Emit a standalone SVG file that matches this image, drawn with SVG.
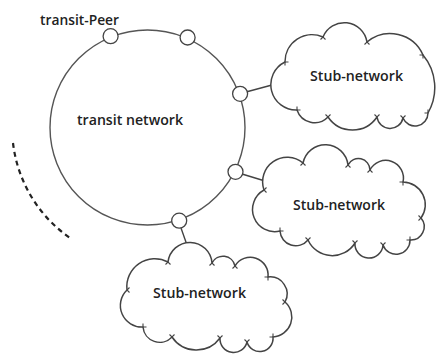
<svg xmlns="http://www.w3.org/2000/svg" width="436" height="354" viewBox="0 0 436 354">
<style>
.lbl{font-family:"Open Sans","DejaVu Sans",sans-serif;font-weight:600;font-size:14px;fill:#222}
.cloud{fill:#fff;stroke:#444;stroke-width:1.5;stroke-linejoin:round}
.tick{fill:none;stroke:#444;stroke-width:1.1}
.port{fill:#fff;stroke:#444;stroke-width:1.3}
.conn{stroke:#444;stroke-width:1.4;fill:none}
</style>
<rect width="436" height="354" fill="#fff"/>
<g id="connectors">
<line class="conn" x1="246" y1="92" x2="272" y2="85"/>
<line class="conn" x1="242" y1="174" x2="265" y2="181"/>
<line class="conn" x1="181" y1="228" x2="187" y2="245"/>
<path d="M 13,143 A 135 135 0 0 0 70,238" fill="none" stroke="#222" stroke-width="2.2" stroke-dasharray="5 4"/>
</g>
<g id="transit-network">
<circle cx="147.5" cy="127.5" r="97.5" fill="#fff" stroke="#555" stroke-width="1.4"/>
<text class="lbl" x="77" y="125" textLength="106" lengthAdjust="spacingAndGlyphs">transit network</text>
</g>
<g id="transit-peer">
<text class="lbl" x="40" y="24.5" textLength="79" lengthAdjust="spacingAndGlyphs">transit-Peer</text>
</g>
<g id="ports">
<circle class="port" cx="110.6" cy="36.2" r="7.5"/>
<circle class="port" cx="187.6" cy="37.5" r="7.5"/>
<circle class="port" cx="240.1" cy="93.8" r="7.5"/>
<circle class="port" cx="235.5" cy="171.8" r="7.5"/>
<circle class="port" cx="179.2" cy="220.7" r="7.5"/>
</g>
<g id="stub-network-1">
<path class="cloud" d="M 297,110 A 25.3 25.3 0 0 1 285,62 A 27 27 0 0 1 323,37 A 23 23 0 0 1 367,42 A 36 36 0 0 1 423,55 A 51 51 0 0 1 428,113 A 13 13 0 0 1 403,118 A 13.2 13.2 0 0 1 377,117 A 29.6 29.6 0 0 1 328,117 A 18.6 18.6 0 0 1 297,110 Z"/>
<path class="tick" d="M288.5,62 L285,62 L285,65.5 M320.5,39.5 L323,37 L325.5,39.5 M364.5,44.5 L367,42 L369.5,44.5 M423,58.5 L423,55 L419.5,55 M424.5,113 L428,113 L428,109.5 M400.5,115.5 L403,118 L405.5,115.5 M374.5,114.5 L377,117 L379.5,114.5 M325.5,114.5 L328,117 L330.5,114.5 M300.5,110 L297,110 L297,106.5"/>
<text class="lbl" x="310" y="80.5" textLength="93" lengthAdjust="spacingAndGlyphs">Stub-network</text>
</g>
<g id="stub-network-2">
<path class="cloud" d="M 264,190 A 24.6 24.6 0 0 1 303,163 A 22.8 22.8 0 0 1 348,165 A 11.6 11.6 0 0 1 370,170 A 17.7 17.7 0 0 1 403,182 A 22.7 22.7 0 0 1 421,218 A 13.4 13.4 0 0 1 410,240 A 13.9 13.9 0 0 1 383,245 A 14 14 0 0 1 355,243 A 26.7 26.7 0 0 1 308,240 A 15.8 15.8 0 0 1 280,231 A 22.2 22.2 0 0 1 264,190 Z"/>
<path class="tick" d="M266.5,187.5 L264,190 L266.5,192.5 M300.5,165.5 L303,163 L305.5,165.5 M345.5,167.5 L348,165 L350.5,167.5 M367.5,172.5 L370,170 L372.5,172.5 M403,185.5 L403,182 L399.5,182 M418.5,215.5 L421,218 L418.5,220.5 M406.5,240 L410,240 L410,236.5 M380.5,242.5 L383,245 L385.5,242.5 M352.5,240.5 L355,243 L357.5,240.5 M305.5,237.5 L308,240 L310.5,237.5 M283.5,231 L280,231 L280,227.5"/>
<text class="lbl" x="293" y="209.5" textLength="92" lengthAdjust="spacingAndGlyphs">Stub-network</text>
</g>
<g id="stub-network-3">
<path class="cloud" d="M 168,262 A 22.1 22.1 0 0 1 212,263 A 12.3 12.3 0 0 1 235,266 A 17.8 17.8 0 0 1 268,277 A 17 17 0 0 1 285,302 A 20 20 0 0 1 273,337 A 13.3 13.3 0 0 1 247,342 A 13.7 13.7 0 0 1 220,338 A 29.3 29.3 0 0 1 172,337 A 16.8 16.8 0 0 1 143,327 A 21.5 21.5 0 0 1 127,290 A 28 28 0 0 1 168,262 Z"/>
<path class="tick" d="M165.5,264.5 L168,262 L170.5,264.5 M209.5,265.5 L212,263 L214.5,265.5 M232.5,268.5 L235,266 L237.5,268.5 M268,280.5 L268,277 L264.5,277 M282.5,299.5 L285,302 L282.5,304.5 M269.5,337 L273,337 L273,333.5 M244.5,339.5 L247,342 L249.5,339.5 M217.5,335.5 L220,338 L222.5,335.5 M169.5,334.5 L172,337 L174.5,334.5 M146.5,327 L143,327 L143,323.5 M129.5,287.5 L127,290 L129.5,292.5"/>
<text class="lbl" x="153" y="297.5" textLength="93" lengthAdjust="spacingAndGlyphs">Stub-network</text>
</g>
</svg>
